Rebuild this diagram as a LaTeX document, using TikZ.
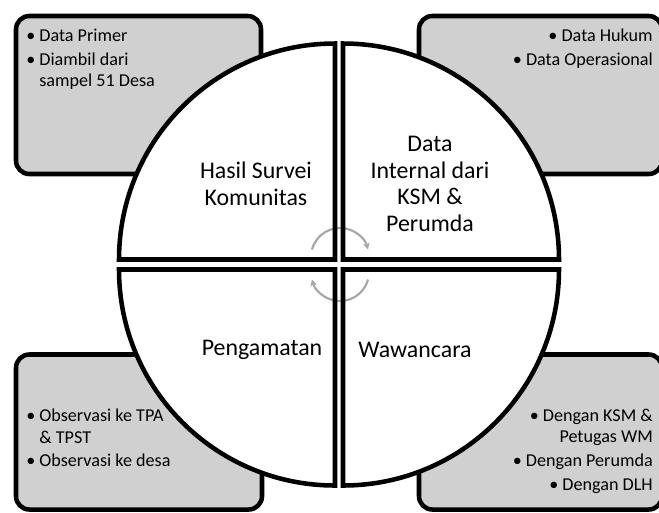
\documentclass[tikz,border=0pt]{standalone}
\usepackage{fontspec}
\setmainfont{Carlito}
\usetikzlibrary{arrows.meta}
\definecolor{boxgray}{RGB}{208,208,208}
\definecolor{arcgray}{RGB}{166,166,166}

\begin{document}
\begin{tikzpicture}[
x=0.75pt,
y=-0.75pt,
infobox/.style={draw=black, line width=3.4pt, fill=boxgray, rounded corners=10pt},
quarter/.style={draw=black, line width=3.4pt},
cyclearc/.style={arcgray, line width=1.6pt, -{Stealth[length=5pt,width=5pt]}},
bigtext/.style={align=center, font=\fontsize{17.9}{20}\selectfont, inner sep=0pt},
smalltext/.style={font=\fontsize{13.6}{15.9}\selectfont, inner sep=0pt},
]

	\useasboundingbox (0,0) rectangle (659,512);

	%%%%%%%%%%%%%%%%%%%%%%%%%%%%
	%Kotak abu-abu di pojok
	%%%%%%%%%%%%%%%%%%%%%%%%%%%%

	\filldraw [infobox] (16,16) rectangle (261,174);
	\filldraw [infobox] (419,16) rectangle (662,174);
	\filldraw [infobox] (16,354.5) rectangle (262,509.5);
	\filldraw [infobox] (419,354.5) rectangle (662,509.5);

	%%%%%%%%%%%%%%%%%%%%%%%%%%%%
	%Lingkaran empat bagian
	%%%%%%%%%%%%%%%%%%%%%%%%%%%%

	\fill [white] (335,259.5) -- (119,259.5) arc[start angle=180, end angle=270, radius=216] -- cycle;
	\fill [white] (343,259.5) -- (343,43.5) arc[start angle=270, end angle=360, radius=216] -- cycle;
	\fill [white] (343,269.5) -- (559,269.5) arc[start angle=0, end angle=90, radius=216] -- cycle;
	\fill [white] (335,269.5) -- (335,485.5) arc[start angle=90, end angle=180, radius=216] -- cycle;

	% panah siklus di tengah
	\draw [cyclearc] (340,257) ++(195:29) arc[start angle=195, end angle=345, radius=29];
	\draw [cyclearc] (340,272) ++(15:29) arc[start angle=15, end angle=165, radius=29];

	\draw [quarter] (335,259.5) -- (119,259.5) arc[start angle=180, end angle=270, radius=216] -- cycle;
	\draw [quarter] (343,259.5) -- (343,43.5) arc[start angle=270, end angle=360, radius=216] -- cycle;
	\draw [quarter] (343,269.5) -- (559,269.5) arc[start angle=0, end angle=90, radius=216] -- cycle;
	\draw [quarter] (335,269.5) -- (335,485.5) arc[start angle=90, end angle=180, radius=216] -- cycle;

	\node [bigtext] (survei) at (256,184) {Hasil Survei\\Komunitas};
	\node [bigtext] (internal) at (430,184) {Data\\Internal dari\\KSM \&\\Perumda};
	\node [bigtext] (pengamatan) at (262,350) {Pengamatan};
	\node [bigtext] (wawancara) at (415,350) {Wawancara};

	%%%%%%%%%%%%%%%%%%%%%%%%%%%%
	%Isi kotak
	%%%%%%%%%%%%%%%%%%%%%%%%%%%%

	\node [smalltext, align=left, anchor=north west] (primer) at (26,29)
		{\textbullet\ Data Primer\\[2pt]
		 \textbullet\ Diambil dari\\
		 \phantom{\textbullet\ }sampel 51 Desa};
	\node [smalltext, align=right, anchor=north east] (hukum) at (653,29)
		{\textbullet\ Data Hukum\\[2pt]
		 \textbullet\ Data Operasional};
	\node [smalltext, align=left, anchor=north west] (observasi) at (26,409)
		{\textbullet\ Observasi ke TPA\\
		 \phantom{\textbullet\ }\& TPST\\[2pt]
		 \textbullet\ Observasi ke desa};
	\node [smalltext, align=right, anchor=north east] (dengan) at (653,409)
		{\textbullet\ Dengan KSM \&\\
		 Petugas WM\\[2pt]
		 \textbullet\ Dengan Perumda\\[2pt]
		 \textbullet\ Dengan DLH};

%	\draw [red] (0,0) rectangle (659,512);

\end{tikzpicture}
\end{document}
